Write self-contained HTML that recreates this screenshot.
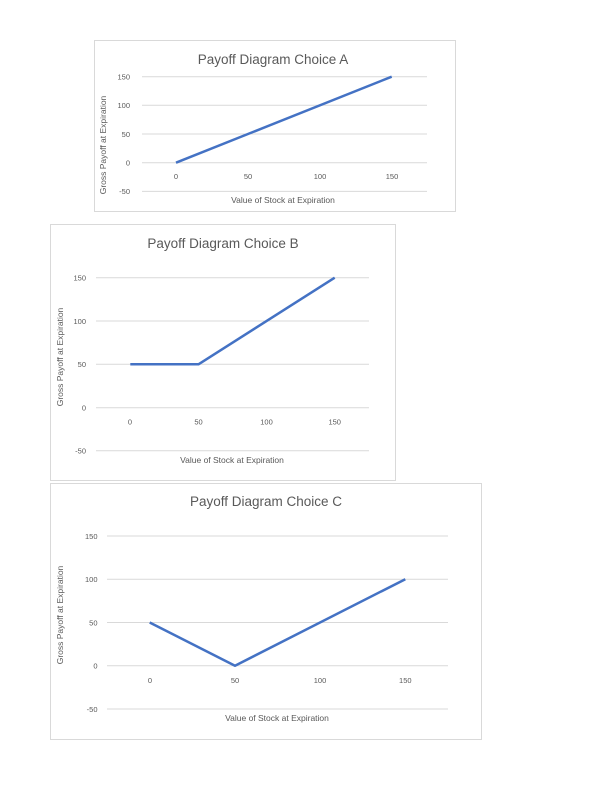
<!DOCTYPE html>
<html><head><meta charset="utf-8"><style>
html,body{margin:0;padding:0;background:#fff;}
svg{display:block;font-family:"Liberation Sans",sans-serif;}
.t{font-size:13.5px;fill:#595959;text-anchor:middle;}
.k{font-size:7.5px;fill:#595959;}
.a{font-size:8.5px;fill:#595959;text-anchor:middle;}
.g{stroke:#d9d9d9;stroke-width:1;}
.b{fill:#fff;stroke:#d9d9d9;stroke-width:1;}
.s{fill:none;stroke:#4472c4;stroke-width:2.5;stroke-linejoin:round;}
</style></head><body>
<svg width="613" height="807" viewBox="0 0 613 807">
<!-- Chart A -->
<rect class="b" x="94.5" y="40.5" width="361" height="171"/>
<text class="t" x="273" y="64">Payoff Diagram Choice A</text>
<g class="g">
<line x1="142" x2="427" y1="76.7" y2="76.7"/><line x1="142" x2="427" y1="105.3" y2="105.3"/>
<line x1="142" x2="427" y1="134" y2="134"/><line x1="142" x2="427" y1="162.7" y2="162.7"/>
<line x1="142" x2="427" y1="191.4" y2="191.4"/></g>
<g class="k" text-anchor="end">
<text x="130" y="79.5">150</text><text x="130" y="108">100</text><text x="130" y="137">50</text>
<text x="130" y="165.5">0</text><text x="130" y="194">-50</text></g>
<g class="k" text-anchor="middle">
<text x="176" y="179">0</text><text x="248" y="179">50</text><text x="320" y="179">100</text><text x="392" y="179">150</text></g>
<text class="a" x="283" y="203">Value of Stock at Expiration</text>
<text class="a" transform="translate(106,145) rotate(-90)">Gross Payoff at Expiration</text>
<polyline class="s" points="176,162.7 391.7,76.7"/>
<!-- Chart B -->
<rect class="b" x="50.5" y="224.5" width="345" height="256"/>
<text class="t" x="223" y="248">Payoff Diagram Choice B</text>
<g class="g">
<line x1="96" x2="369" y1="277.7" y2="277.7"/><line x1="96" x2="369" y1="321" y2="321"/>
<line x1="96" x2="369" y1="364.3" y2="364.3"/><line x1="96" x2="369" y1="407.7" y2="407.7"/>
<line x1="96" x2="369" y1="450.7" y2="450.7"/></g>
<g class="k" text-anchor="end">
<text x="86" y="280.5">150</text><text x="86" y="324">100</text><text x="86" y="367">50</text>
<text x="86" y="410.5">0</text><text x="86" y="453.5">-50</text></g>
<g class="k" text-anchor="middle">
<text x="130" y="424.5">0</text><text x="198.5" y="424.5">50</text><text x="266.5" y="424.5">100</text><text x="334.7" y="424.5">150</text></g>
<text class="a" x="232" y="463">Value of Stock at Expiration</text>
<text class="a" transform="translate(63,357) rotate(-90)">Gross Payoff at Expiration</text>
<polyline class="s" points="130.3,364.3 198.5,364.3 334.7,277.7"/>
<!-- Chart C -->
<rect class="b" x="50.5" y="483.5" width="431" height="256"/>
<text class="t" x="266" y="506">Payoff Diagram Choice C</text>
<g class="g">
<line x1="107" x2="448" y1="536" y2="536"/><line x1="107" x2="448" y1="579.2" y2="579.2"/>
<line x1="107" x2="448" y1="622.5" y2="622.5"/><line x1="107" x2="448" y1="665.7" y2="665.7"/>
<line x1="107" x2="448" y1="709" y2="709"/></g>
<g class="k" text-anchor="end">
<text x="97.5" y="539">150</text><text x="97.5" y="582">100</text><text x="97.5" y="625.5">50</text>
<text x="97.5" y="668.5">0</text><text x="97.5" y="712">-50</text></g>
<g class="k" text-anchor="middle">
<text x="150" y="683">0</text><text x="235" y="683">50</text><text x="320" y="683">100</text><text x="405.3" y="683">150</text></g>
<text class="a" x="277" y="721">Value of Stock at Expiration</text>
<text class="a" transform="translate(63,615) rotate(-90)">Gross Payoff at Expiration</text>
<polyline class="s" points="149.7,622.5 235,665.7 405.3,579.2"/>
</svg>
</body></html>
